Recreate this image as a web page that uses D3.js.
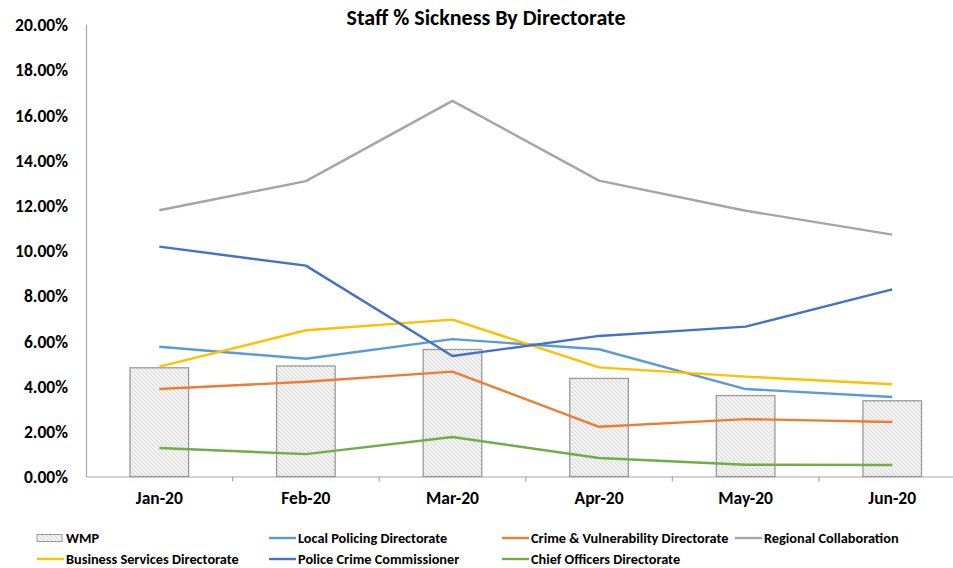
<!DOCTYPE html>
<html>
<head>
<meta charset="utf-8">
<script src="https://cdn.jsdelivr.net/npm/d3@7"></script>
<style>
  html, body { margin: 0; padding: 0; background: #ffffff; }
  svg { display: block; }
  text { font-family: Carlito, Lato, "Open Sans", sans-serif; font-weight: bold; fill: #000; }
</style>
</head>
<body>
<svg id="chart" width="953" height="568"></svg>
<script>
const categories = ["Jan-20", "Feb-20", "Mar-20", "Apr-20", "May-20", "Jun-20"];
const wmp = [4.81, 4.89, 5.62, 4.34, 3.58, 3.35];
const localPolicing = [5.74, 5.21, 6.08, 5.63, 3.87, 3.52];
const crimeVulnerability = [3.87, 4.19, 4.64, 2.20, 2.54, 2.41];
const regionalCollaboration = [11.78, 13.07, 16.62, 13.09, 11.76, 10.70];
const businessServices = [4.86, 6.47, 6.94, 4.83, 4.42, 4.08];
const policeCrimeCommissioner = [10.17, 9.33, 5.33, 6.22, 6.63, 8.28];
const chiefOfficers = [1.26, 0.99, 1.75, 0.82, 0.52, 0.51];
const yTicks = [0, 2, 4, 6, 8, 10, 12, 14, 16, 18, 20];
const chartTitle = "Staff % Sickness By Directorate";

const lineSeries = [
  { name: "Local Policing Directorate", values: localPolicing, color: "#5B9BD5" },
  { name: "Crime & Vulnerability Directorate", values: crimeVulnerability, color: "#ED7D31" },
  { name: "Regional Collaboration", values: regionalCollaboration, color: "#A5A5A5" },
  { name: "Business Services Directorate", values: businessServices, color: "#FFC000" },
  { name: "Police Crime Commissioner", values: policeCrimeCommissioner, color: "#4472C4" },
  { name: "Chief Officers Directorate", values: chiefOfficers, color: "#70AD47" }
];

const svg = d3.select("#chart");
const mLeft = 86, mRight = 965.5, mTop = 24.5, mBottom = 476.5;

const defs = svg.append("defs");
const pat = defs.append("pattern").attr("id", "hatch").attr("patternUnits", "userSpaceOnUse")
  .attr("width", 4).attr("height", 4);
pat.append("rect").attr("width", 4).attr("height", 4).attr("fill", "#f3f3f3");
pat.append("path").attr("d", "M-1,-1 L5,5 M-1,3 L1,5 M3,-1 L5,1")
  .attr("stroke", "#cfcfcf").attr("stroke-width", 0.8);

const x = d3.scaleBand().domain(categories).range([mLeft, mRight]).paddingInner(0.6).paddingOuter(0.3);
const xPoint = d => x(d) + x.bandwidth() / 2;
const y = d3.scaleLinear().domain([0, 20]).range([mBottom, mTop]);

// y axis
const yAxis = d3.axisLeft(y).tickValues(yTicks).tickSize(0).tickPadding(18)
  .tickFormat(d => d3.format(".2f")(d) + "%");
const gy = svg.append("g").attr("transform", `translate(${mLeft},0)`).call(yAxis);
gy.select(".domain").attr("stroke", "#a6a6a6").attr("stroke-width", 1.2);
gy.selectAll("text").style("font-size", "17.5px").attr("dy", "0.35em");

// x axis (band edges ticks)
const xBand = d3.scaleBand().domain(categories).range([mLeft, mRight]);
const gx = svg.append("g").attr("transform", `translate(0,${mBottom})`)
  .call(d3.axisBottom(xBand).tickSize(0).tickPadding(15));
gx.select(".domain").attr("stroke", "#a6a6a6").attr("stroke-width", 1.2);
gx.selectAll("text").style("font-size", "17.5px");
gx.selectAll(".sep").data(categories.slice(1)).enter().append("line")
  .attr("class", "sep")
  .attr("x1", d => xBand(d)).attr("x2", d => xBand(d))
  .attr("y1", 0).attr("y2", 5)
  .attr("stroke", "#a6a6a6").attr("stroke-width", 1.2);

// bars
svg.append("g").selectAll("rect").data(categories).enter().append("rect")
  .attr("x", d => xPoint(d) - 29.3)
  .attr("width", 58.6)
  .attr("y", (d, i) => y(wmp[i]))
  .attr("height", (d, i) => mBottom - y(wmp[i]))
  .attr("fill", "url(#hatch)")
  .attr("stroke", "#9a9a9a").attr("stroke-width", 1.3);

// lines
const line = d3.line().x((d, i) => xPoint(categories[i])).y(d => y(d));
svg.append("g").selectAll("path").data(lineSeries).enter().append("path")
  .attr("d", s => line(s.values))
  .attr("fill", "none")
  .attr("stroke", s => s.color)
  .attr("stroke-width", 2.4)
  .attr("stroke-linejoin", "round");

// title
svg.append("text").attr("x", 486).attr("y", 25).attr("text-anchor", "middle")
  .style("font-size", "22px").text(chartTitle);

// legend
const legendItems = [
  { name: "WMP", type: "bar" },
  { name: lineSeries[0].name, color: lineSeries[0].color },
  { name: lineSeries[1].name, color: lineSeries[1].color },
  { name: lineSeries[2].name, color: lineSeries[2].color },
  { name: lineSeries[3].name, color: lineSeries[3].color },
  { name: lineSeries[4].name, color: lineSeries[4].color },
  { name: lineSeries[5].name, color: lineSeries[5].color }
];
const colX = [37, 269, 502, 735];
const rowY = [538, 559];
const lg = svg.append("g");
legendItems.forEach((it, i) => {
  const col = i < 4 ? i : i - 4;
  const row = i < 4 ? 0 : 1;
  const g = lg.append("g").attr("transform", `translate(${colX[col]},${rowY[row]})`);
  if (it.type === "bar") {
    g.append("rect").attr("x", 0).attr("y", -3.5).attr("width", 25).attr("height", 7)
      .attr("fill", "url(#hatch)").attr("stroke", "#9a9a9a").attr("stroke-width", 1);
  } else {
    g.append("line").attr("x1", 0).attr("x2", 27).attr("y1", 0).attr("y2", 0)
      .attr("stroke", it.color).attr("stroke-width", 2.4);
  }
  g.append("text").attr("x", 29).attr("y", 0).attr("dy", "0.35em")
    .style("font-size", "14.3px").text(it.name);
});
</script>
</body>
</html>
